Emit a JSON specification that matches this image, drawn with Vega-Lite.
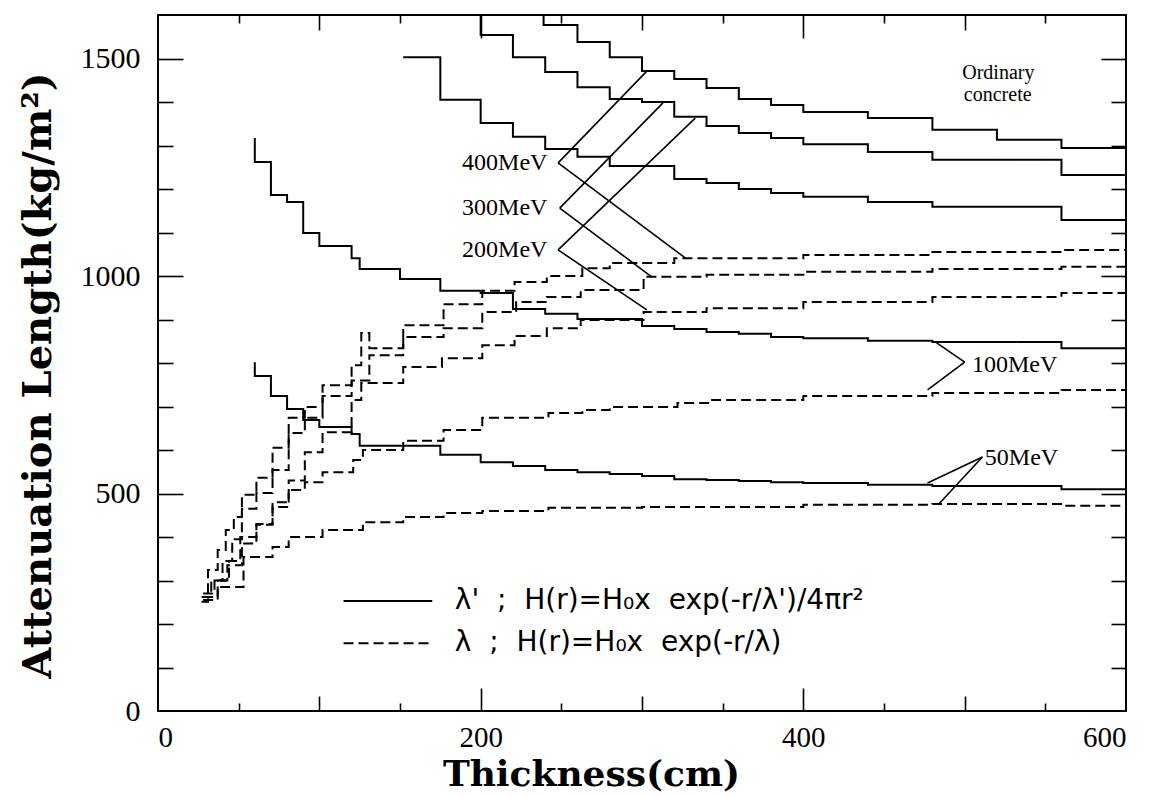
{
  "$schema": "https://vega.github.io/schema/vega-lite/v6.json",
  "width": 968,
  "height": 696,
  "autosize": {"type": "none"},
  "padding": {"left": 158, "top": 15, "right": 37, "bottom": 86},
  "background": "white",
  "config": {
    "view": {"stroke": "black", "strokeWidth": 2},
    "axis": {"grid": false, "tickColor": "black", "tickWidth": 1.6, "domain": false, "labelColor": "black", "titleColor": "black"}
  },
  "resolve": {"axis": {"x": "independent", "y": "independent"}},
  "datasets": {
    "curves": [
      {"curve": "S400", "kind": "solid", "x": 220, "y": 1650}, {"curve": "S400", "kind": "solid", "x": 239, "y": 1577}, {"curve": "S400", "kind": "solid", "x": 260, "y": 1538}, {"curve": "S400", "kind": "solid", "x": 280, "y": 1503}, {"curve": "S400", "kind": "solid", "x": 300, "y": 1471}, {"curve": "S400", "kind": "solid", "x": 320, "y": 1453}, {"curve": "S400", "kind": "solid", "x": 340, "y": 1432}, {"curve": "S400", "kind": "solid", "x": 360, "y": 1407}, {"curve": "S400", "kind": "solid", "x": 380, "y": 1393}, {"curve": "S400", "kind": "solid", "x": 400, "y": 1377}, {"curve": "S400", "kind": "solid", "x": 440, "y": 1363}, {"curve": "S400", "kind": "solid", "x": 480, "y": 1336}, {"curve": "S400", "kind": "solid", "x": 520, "y": 1313}, {"curve": "S400", "kind": "solid", "x": 560, "y": 1294}, {"curve": "S400", "kind": "solid", "x": 600, "y": 1294},
      {"curve": "S300", "kind": "solid", "x": 180, "y": 1650}, {"curve": "S300", "kind": "solid", "x": 200, "y": 1554}, {"curve": "S300", "kind": "solid", "x": 220, "y": 1503}, {"curve": "S300", "kind": "solid", "x": 240, "y": 1469}, {"curve": "S300", "kind": "solid", "x": 260, "y": 1434}, {"curve": "S300", "kind": "solid", "x": 280, "y": 1407}, {"curve": "S300", "kind": "solid", "x": 300, "y": 1400}, {"curve": "S300", "kind": "solid", "x": 320, "y": 1366}, {"curve": "S300", "kind": "solid", "x": 340, "y": 1345}, {"curve": "S300", "kind": "solid", "x": 360, "y": 1329}, {"curve": "S300", "kind": "solid", "x": 380, "y": 1317}, {"curve": "S300", "kind": "solid", "x": 400, "y": 1303}, {"curve": "S300", "kind": "solid", "x": 440, "y": 1285}, {"curve": "S300", "kind": "solid", "x": 480, "y": 1267}, {"curve": "S300", "kind": "solid", "x": 560, "y": 1232}, {"curve": "S300", "kind": "solid", "x": 600, "y": 1232},
      {"curve": "S200", "kind": "solid", "x": 152, "y": 1503}, {"curve": "S200", "kind": "solid", "x": 175, "y": 1405}, {"curve": "S200", "kind": "solid", "x": 200, "y": 1352}, {"curve": "S200", "kind": "solid", "x": 220, "y": 1320}, {"curve": "S200", "kind": "solid", "x": 240, "y": 1292}, {"curve": "S200", "kind": "solid", "x": 260, "y": 1274}, {"curve": "S200", "kind": "solid", "x": 280, "y": 1253}, {"curve": "S200", "kind": "solid", "x": 320, "y": 1223}, {"curve": "S200", "kind": "solid", "x": 340, "y": 1214}, {"curve": "S200", "kind": "solid", "x": 360, "y": 1200}, {"curve": "S200", "kind": "solid", "x": 380, "y": 1191}, {"curve": "S200", "kind": "solid", "x": 400, "y": 1182}, {"curve": "S200", "kind": "solid", "x": 440, "y": 1170}, {"curve": "S200", "kind": "solid", "x": 480, "y": 1159}, {"curve": "S200", "kind": "solid", "x": 560, "y": 1129}, {"curve": "S200", "kind": "solid", "x": 600, "y": 1129},
      {"curve": "S100", "kind": "solid", "x": 60, "y": 1317}, {"curve": "S100", "kind": "solid", "x": 60, "y": 1262}, {"curve": "S100", "kind": "solid", "x": 70, "y": 1186}, {"curve": "S100", "kind": "solid", "x": 80, "y": 1170}, {"curve": "S100", "kind": "solid", "x": 90, "y": 1099}, {"curve": "S100", "kind": "solid", "x": 100, "y": 1069}, {"curve": "S100", "kind": "solid", "x": 120, "y": 1041}, {"curve": "S100", "kind": "solid", "x": 125, "y": 1016}, {"curve": "S100", "kind": "solid", "x": 150, "y": 993}, {"curve": "S100", "kind": "solid", "x": 175, "y": 966}, {"curve": "S100", "kind": "solid", "x": 200, "y": 961}, {"curve": "S100", "kind": "solid", "x": 220, "y": 924}, {"curve": "S100", "kind": "solid", "x": 240, "y": 913}, {"curve": "S100", "kind": "solid", "x": 260, "y": 901}, {"curve": "S100", "kind": "solid", "x": 300, "y": 885}, {"curve": "S100", "kind": "solid", "x": 320, "y": 878}, {"curve": "S100", "kind": "solid", "x": 340, "y": 871}, {"curve": "S100", "kind": "solid", "x": 360, "y": 867}, {"curve": "S100", "kind": "solid", "x": 380, "y": 860}, {"curve": "S100", "kind": "solid", "x": 400, "y": 857}, {"curve": "S100", "kind": "solid", "x": 440, "y": 851}, {"curve": "S100", "kind": "solid", "x": 480, "y": 848}, {"curve": "S100", "kind": "solid", "x": 560, "y": 834}, {"curve": "S100", "kind": "solid", "x": 600, "y": 834},
      {"curve": "S50", "kind": "solid", "x": 60, "y": 802}, {"curve": "S50", "kind": "solid", "x": 60, "y": 770}, {"curve": "S50", "kind": "solid", "x": 70, "y": 724}, {"curve": "S50", "kind": "solid", "x": 80, "y": 694}, {"curve": "S50", "kind": "solid", "x": 90, "y": 669}, {"curve": "S50", "kind": "solid", "x": 100, "y": 653}, {"curve": "S50", "kind": "solid", "x": 120, "y": 637}, {"curve": "S50", "kind": "solid", "x": 125, "y": 610}, {"curve": "S50", "kind": "solid", "x": 175, "y": 589}, {"curve": "S50", "kind": "solid", "x": 200, "y": 572}, {"curve": "S50", "kind": "solid", "x": 220, "y": 563}, {"curve": "S50", "kind": "solid", "x": 240, "y": 554}, {"curve": "S50", "kind": "solid", "x": 260, "y": 549}, {"curve": "S50", "kind": "solid", "x": 280, "y": 545}, {"curve": "S50", "kind": "solid", "x": 300, "y": 540}, {"curve": "S50", "kind": "solid", "x": 320, "y": 533}, {"curve": "S50", "kind": "solid", "x": 340, "y": 531}, {"curve": "S50", "kind": "solid", "x": 360, "y": 529}, {"curve": "S50", "kind": "solid", "x": 380, "y": 526}, {"curve": "S50", "kind": "solid", "x": 400, "y": 524}, {"curve": "S50", "kind": "solid", "x": 440, "y": 520}, {"curve": "S50", "kind": "solid", "x": 480, "y": 517}, {"curve": "S50", "kind": "solid", "x": 560, "y": 510}, {"curve": "S50", "kind": "solid", "x": 600, "y": 510},
      {"curve": "D400", "kind": "dashed", "x": 27, "y": 251}, {"curve": "D400", "kind": "dashed", "x": 31, "y": 324}, {"curve": "D400", "kind": "dashed", "x": 37, "y": 370}, {"curve": "D400", "kind": "dashed", "x": 42, "y": 416}, {"curve": "D400", "kind": "dashed", "x": 47, "y": 446}, {"curve": "D400", "kind": "dashed", "x": 52, "y": 497}, {"curve": "D400", "kind": "dashed", "x": 61, "y": 536}, {"curve": "D400", "kind": "dashed", "x": 71, "y": 605}, {"curve": "D400", "kind": "dashed", "x": 81, "y": 674}, {"curve": "D400", "kind": "dashed", "x": 91, "y": 699}, {"curve": "D400", "kind": "dashed", "x": 102, "y": 749}, {"curve": "D400", "kind": "dashed", "x": 120, "y": 795}, {"curve": "D400", "kind": "dashed", "x": 126, "y": 869}, {"curve": "D400", "kind": "dashed", "x": 131, "y": 834}, {"curve": "D400", "kind": "dashed", "x": 152, "y": 887}, {"curve": "D400", "kind": "dashed", "x": 177, "y": 935}, {"curve": "D400", "kind": "dashed", "x": 201, "y": 966}, {"curve": "D400", "kind": "dashed", "x": 221, "y": 986}, {"curve": "D400", "kind": "dashed", "x": 241, "y": 1000}, {"curve": "D400", "kind": "dashed", "x": 263, "y": 1018}, {"curve": "D400", "kind": "dashed", "x": 280, "y": 1030}, {"curve": "D400", "kind": "dashed", "x": 320, "y": 1041}, {"curve": "D400", "kind": "dashed", "x": 400, "y": 1048}, {"curve": "D400", "kind": "dashed", "x": 480, "y": 1055}, {"curve": "D400", "kind": "dashed", "x": 560, "y": 1060}, {"curve": "D400", "kind": "dashed", "x": 600, "y": 1060},
      {"curve": "D300", "kind": "dashed", "x": 27, "y": 262}, {"curve": "D300", "kind": "dashed", "x": 33, "y": 300}, {"curve": "D300", "kind": "dashed", "x": 40, "y": 345}, {"curve": "D300", "kind": "dashed", "x": 46, "y": 395}, {"curve": "D300", "kind": "dashed", "x": 52, "y": 465}, {"curve": "D300", "kind": "dashed", "x": 61, "y": 501}, {"curve": "D300", "kind": "dashed", "x": 71, "y": 554}, {"curve": "D300", "kind": "dashed", "x": 81, "y": 639}, {"curve": "D300", "kind": "dashed", "x": 91, "y": 674}, {"curve": "D300", "kind": "dashed", "x": 102, "y": 724}, {"curve": "D300", "kind": "dashed", "x": 120, "y": 760}, {"curve": "D300", "kind": "dashed", "x": 131, "y": 818}, {"curve": "D300", "kind": "dashed", "x": 152, "y": 860}, {"curve": "D300", "kind": "dashed", "x": 177, "y": 880}, {"curve": "D300", "kind": "dashed", "x": 201, "y": 917}, {"curve": "D300", "kind": "dashed", "x": 222, "y": 940}, {"curve": "D300", "kind": "dashed", "x": 241, "y": 952}, {"curve": "D300", "kind": "dashed", "x": 262, "y": 968}, {"curve": "D300", "kind": "dashed", "x": 301, "y": 998}, {"curve": "D300", "kind": "dashed", "x": 340, "y": 1003}, {"curve": "D300", "kind": "dashed", "x": 400, "y": 1010}, {"curve": "D300", "kind": "dashed", "x": 480, "y": 1016}, {"curve": "D300", "kind": "dashed", "x": 560, "y": 1021}, {"curve": "D300", "kind": "dashed", "x": 600, "y": 1021},
      {"curve": "D200", "kind": "dashed", "x": 28, "y": 270}, {"curve": "D200", "kind": "dashed", "x": 35, "y": 300}, {"curve": "D200", "kind": "dashed", "x": 43, "y": 335}, {"curve": "D200", "kind": "dashed", "x": 52, "y": 385}, {"curve": "D200", "kind": "dashed", "x": 61, "y": 430}, {"curve": "D200", "kind": "dashed", "x": 71, "y": 480}, {"curve": "D200", "kind": "dashed", "x": 81, "y": 530}, {"curve": "D200", "kind": "dashed", "x": 91, "y": 595}, {"curve": "D200", "kind": "dashed", "x": 102, "y": 641}, {"curve": "D200", "kind": "dashed", "x": 120, "y": 715}, {"curve": "D200", "kind": "dashed", "x": 126, "y": 754}, {"curve": "D200", "kind": "dashed", "x": 152, "y": 791}, {"curve": "D200", "kind": "dashed", "x": 176, "y": 811}, {"curve": "D200", "kind": "dashed", "x": 201, "y": 841}, {"curve": "D200", "kind": "dashed", "x": 221, "y": 862}, {"curve": "D200", "kind": "dashed", "x": 241, "y": 880}, {"curve": "D200", "kind": "dashed", "x": 262, "y": 899}, {"curve": "D200", "kind": "dashed", "x": 301, "y": 917}, {"curve": "D200", "kind": "dashed", "x": 340, "y": 926}, {"curve": "D200", "kind": "dashed", "x": 400, "y": 940}, {"curve": "D200", "kind": "dashed", "x": 480, "y": 952}, {"curve": "D200", "kind": "dashed", "x": 560, "y": 961}, {"curve": "D200", "kind": "dashed", "x": 600, "y": 961},
      {"curve": "D100", "kind": "dashed", "x": 28, "y": 262}, {"curve": "D100", "kind": "dashed", "x": 37, "y": 300}, {"curve": "D100", "kind": "dashed", "x": 44, "y": 345}, {"curve": "D100", "kind": "dashed", "x": 51, "y": 400}, {"curve": "D100", "kind": "dashed", "x": 61, "y": 428}, {"curve": "D100", "kind": "dashed", "x": 71, "y": 469}, {"curve": "D100", "kind": "dashed", "x": 81, "y": 508}, {"curve": "D100", "kind": "dashed", "x": 91, "y": 526}, {"curve": "D100", "kind": "dashed", "x": 102, "y": 549}, {"curve": "D100", "kind": "dashed", "x": 121, "y": 577}, {"curve": "D100", "kind": "dashed", "x": 127, "y": 600}, {"curve": "D100", "kind": "dashed", "x": 152, "y": 621}, {"curve": "D100", "kind": "dashed", "x": 177, "y": 646}, {"curve": "D100", "kind": "dashed", "x": 201, "y": 674}, {"curve": "D100", "kind": "dashed", "x": 242, "y": 685}, {"curve": "D100", "kind": "dashed", "x": 263, "y": 692}, {"curve": "D100", "kind": "dashed", "x": 280, "y": 699}, {"curve": "D100", "kind": "dashed", "x": 322, "y": 708}, {"curve": "D100", "kind": "dashed", "x": 342, "y": 715}, {"curve": "D100", "kind": "dashed", "x": 400, "y": 724}, {"curve": "D100", "kind": "dashed", "x": 480, "y": 731}, {"curve": "D100", "kind": "dashed", "x": 560, "y": 738}, {"curve": "D100", "kind": "dashed", "x": 600, "y": 740},
      {"curve": "D50", "kind": "dashed", "x": 28, "y": 255}, {"curve": "D50", "kind": "dashed", "x": 37, "y": 285}, {"curve": "D50", "kind": "dashed", "x": 53, "y": 354}, {"curve": "D50", "kind": "dashed", "x": 71, "y": 377}, {"curve": "D50", "kind": "dashed", "x": 81, "y": 400}, {"curve": "D50", "kind": "dashed", "x": 102, "y": 416}, {"curve": "D50", "kind": "dashed", "x": 127, "y": 434}, {"curve": "D50", "kind": "dashed", "x": 152, "y": 446}, {"curve": "D50", "kind": "dashed", "x": 177, "y": 455}, {"curve": "D50", "kind": "dashed", "x": 201, "y": 460}, {"curve": "D50", "kind": "dashed", "x": 242, "y": 467}, {"curve": "D50", "kind": "dashed", "x": 300, "y": 469}, {"curve": "D50", "kind": "dashed", "x": 400, "y": 474}, {"curve": "D50", "kind": "dashed", "x": 480, "y": 476}, {"curve": "D50", "kind": "dashed", "x": 563, "y": 472}, {"curve": "D50", "kind": "dashed", "x": 600, "y": 472}
    ],
    "pointers": [
      {"x": 248, "y": 1260, "x2": 303, "y2": 1471}, {"x": 248, "y": 1260, "x2": 327, "y2": 1041},
      {"x": 249, "y": 1156, "x2": 313, "y2": 1398}, {"x": 249, "y": 1156, "x2": 306, "y2": 998},
      {"x": 248, "y": 1060, "x2": 333, "y2": 1363}, {"x": 248, "y": 1060, "x2": 303, "y2": 922},
      {"x": 500, "y": 802, "x2": 482, "y2": 848}, {"x": 500, "y": 802, "x2": 477, "y2": 738},
      {"x": 511, "y": 584, "x2": 477, "y2": 524}, {"x": 511, "y": 584, "x2": 484, "y2": 476}
    ],
    "legendLines": [
      {"kind": "solid", "x": 115, "y": 253, "x2": 170, "y2": 253},
      {"kind": "dashed", "x": 115, "y": 156, "x2": 170, "y2": 156}
    ],
    "mevLabels": [
      {"text": "400MeV", "x": 188.5, "y": 1260},
      {"text": "300MeV", "x": 188.5, "y": 1156},
      {"text": "200MeV", "x": 188.5, "y": 1060},
      {"text": "100MeV", "x": 504.5, "y": 795},
      {"text": "50MeV", "x": 512.5, "y": 582}
    ],
    "concrete": [
      {"text": "Ordinary", "x": 498.5, "y": 1467},
      {"text": "concrete", "x": 499.5, "y": 1415}
    ],
    "legendText": [
      {"text": "λ'\u00a0\u00a0;\u00a0\u00a0H(r)=H₀x\u00a0\u00a0exp(-r/λ')/4πr²", "x": 184, "y": 253},
      {"text": "λ\u00a0\u00a0;\u00a0\u00a0H(r)=H₀x\u00a0\u00a0exp(-r/λ)", "x": 184, "y": 156}
    ]
  },
  "layer": [
    {
      "data": {"name": "curves"},
      "mark": {"type": "point", "opacity": 0},
      "encoding": {
        "x": {"field": "x", "type": "quantitative", "scale": {"domain": [0, 600], "nice": false, "zero": false},
          "axis": {"orient": "bottom", "values": [0, 200, 400, 600], "format": "d", "ticks": false, "tickSize": 0, "labelPadding": 12, "labelFont": "Liberation Serif", "labelFontSize": 29, "labelFlush": true,
            "title": "Thickness(cm)", "titleFont": "DejaVu Serif", "titleFontWeight": "bold", "titleFontSize": 36, "titleBaseline": "alphabetic", "titleAlign": "center", "titleX": 433, "titleY": 74}},
        "y": {"field": "y", "type": "quantitative", "scale": {"domain": [0, 1600], "nice": false},
          "axis": {"orient": "left", "values": [0, 500, 1000, 1500], "format": "d", "ticks": false, "tickSize": 0, "labelPadding": 18, "labelFont": "Liberation Serif", "labelFontSize": 30,
            "title": "Attenuation Length(kg/m²)", "titleFont": "DejaVu Serif", "titleFontWeight": "bold", "titleFontSize": 40, "titleAngle": -90, "titleBaseline": "alphabetic", "titleAlign": "center", "titleX": -108, "titleY": 360}}
      }
    },
    {
      "data": {"name": "curves"}, "mark": {"type": "point", "opacity": 0},
      "encoding": {
        "x": {"field": "x", "type": "quantitative", "scale": {"domain": [0, 600], "nice": false, "zero": false}, "axis": {"orient": "bottom", "values": [50, 150, 250, 350, 450, 550], "tickSize": 8, "offset": -8, "labels": false, "title": null}},
        "y": {"field": "y", "type": "quantitative", "scale": {"domain": [0, 1600], "nice": false}, "axis": null}
      }
    },
    {
      "data": {"name": "curves"}, "mark": {"type": "point", "opacity": 0},
      "encoding": {
        "x": {"field": "x", "type": "quantitative", "scale": {"domain": [0, 600], "nice": false, "zero": false}, "axis": {"orient": "bottom", "values": [100, 300, 500], "tickSize": 15, "offset": -15, "labels": false, "title": null}},
        "y": {"field": "y", "type": "quantitative", "scale": {"domain": [0, 1600], "nice": false}, "axis": null}
      }
    },
    {
      "data": {"name": "curves"}, "mark": {"type": "point", "opacity": 0},
      "encoding": {
        "x": {"field": "x", "type": "quantitative", "scale": {"domain": [0, 600], "nice": false, "zero": false}, "axis": {"orient": "bottom", "values": [200, 400], "tickSize": 23, "offset": -23, "labels": false, "title": null}},
        "y": {"field": "y", "type": "quantitative", "scale": {"domain": [0, 1600], "nice": false}, "axis": null}
      }
    },
    {
      "data": {"name": "curves"}, "mark": {"type": "point", "opacity": 0},
      "encoding": {
        "x": {"field": "x", "type": "quantitative", "scale": {"domain": [0, 600], "nice": false, "zero": false}, "axis": {"orient": "top", "values": [50, 150, 250, 350, 450, 550], "tickSize": 8, "offset": -8, "labels": false, "title": null}},
        "y": {"field": "y", "type": "quantitative", "scale": {"domain": [0, 1600], "nice": false}, "axis": null}
      }
    },
    {
      "data": {"name": "curves"}, "mark": {"type": "point", "opacity": 0},
      "encoding": {
        "x": {"field": "x", "type": "quantitative", "scale": {"domain": [0, 600], "nice": false, "zero": false}, "axis": {"orient": "top", "values": [100, 300, 500], "tickSize": 15, "offset": -15, "labels": false, "title": null}},
        "y": {"field": "y", "type": "quantitative", "scale": {"domain": [0, 1600], "nice": false}, "axis": null}
      }
    },
    {
      "data": {"name": "curves"}, "mark": {"type": "point", "opacity": 0},
      "encoding": {
        "x": {"field": "x", "type": "quantitative", "scale": {"domain": [0, 600], "nice": false, "zero": false}, "axis": {"orient": "top", "values": [200, 400], "tickSize": 23, "offset": -23, "labels": false, "title": null}},
        "y": {"field": "y", "type": "quantitative", "scale": {"domain": [0, 1600], "nice": false}, "axis": null}
      }
    },
    {
      "data": {"name": "curves"}, "mark": {"type": "point", "opacity": 0},
      "encoding": {
        "x": {"field": "x", "type": "quantitative", "scale": {"domain": [0, 600], "nice": false, "zero": false}, "axis": null},
        "y": {"field": "y", "type": "quantitative", "scale": {"domain": [0, 1600], "nice": false}, "axis": {"orient": "left", "values": [100, 200, 300, 400, 600, 700, 800, 900, 1100, 1200, 1300, 1400], "tickSize": 15, "offset": -15, "labels": false, "title": null}}
      }
    },
    {
      "data": {"name": "curves"}, "mark": {"type": "point", "opacity": 0},
      "encoding": {
        "x": {"field": "x", "type": "quantitative", "scale": {"domain": [0, 600], "nice": false, "zero": false}, "axis": null},
        "y": {"field": "y", "type": "quantitative", "scale": {"domain": [0, 1600], "nice": false}, "axis": {"orient": "left", "values": [500, 1000, 1500], "tickSize": 25, "offset": -25, "labels": false, "title": null}}
      }
    },
    {
      "data": {"name": "curves"}, "mark": {"type": "point", "opacity": 0},
      "encoding": {
        "x": {"field": "x", "type": "quantitative", "scale": {"domain": [0, 600], "nice": false, "zero": false}, "axis": null},
        "y": {"field": "y", "type": "quantitative", "scale": {"domain": [0, 1600], "nice": false}, "axis": {"orient": "right", "values": [100, 200, 300, 400, 600, 700, 800, 900, 1100, 1200, 1300, 1400], "tickSize": 15, "offset": -15, "labels": false, "title": null}}
      }
    },
    {
      "data": {"name": "curves"}, "mark": {"type": "point", "opacity": 0},
      "encoding": {
        "x": {"field": "x", "type": "quantitative", "scale": {"domain": [0, 600], "nice": false, "zero": false}, "axis": null},
        "y": {"field": "y", "type": "quantitative", "scale": {"domain": [0, 1600], "nice": false}, "axis": {"orient": "right", "values": [500, 1000, 1500], "tickSize": 25, "offset": -25, "labels": false, "title": null}}
      }
    },
    {
      "data": {"name": "curves"},
      "mark": {"type": "line", "interpolate": "step-after", "color": "black", "strokeWidth": 2, "clip": true},
      "encoding": {
        "x": {"field": "x", "type": "quantitative", "scale": {"domain": [0, 600], "nice": false, "zero": false}, "axis": null},
        "y": {"field": "y", "type": "quantitative", "scale": {"domain": [0, 1600], "nice": false}, "axis": null},
        "detail": {"field": "curve", "type": "nominal"},
        "strokeDash": {"field": "kind", "type": "nominal", "scale": {"domain": ["solid", "dashed"], "range": [[1, 0], [10, 5]]}, "legend": null},
        "order": {"value": null}
      }
    },
    {
      "data": {"name": "pointers"},
      "mark": {"type": "rule", "color": "black", "strokeWidth": 1.6},
      "encoding": {
        "x": {"field": "x", "type": "quantitative", "scale": {"domain": [0, 600], "nice": false, "zero": false}, "axis": null},
        "y": {"field": "y", "type": "quantitative", "scale": {"domain": [0, 1600], "nice": false}, "axis": null},
        "x2": {"field": "x2"},
        "y2": {"field": "y2"}
      }
    },
    {
      "data": {"name": "legendLines"},
      "mark": {"type": "rule", "color": "black", "strokeWidth": 2},
      "encoding": {
        "x": {"field": "x", "type": "quantitative", "scale": {"domain": [0, 600], "nice": false, "zero": false}, "axis": null},
        "y": {"field": "y", "type": "quantitative", "scale": {"domain": [0, 1600], "nice": false}, "axis": null},
        "x2": {"field": "x2"},
        "y2": {"field": "y2"},
        "strokeDash": {"field": "kind", "type": "nominal", "scale": {"domain": ["solid", "dashed"], "range": [[1, 0], [10, 5]]}, "legend": null}
      }
    },
    {
      "data": {"name": "mevLabels"},
      "mark": {"type": "text", "align": "left", "baseline": "middle", "font": "Liberation Serif", "fontSize": 24, "color": "black"},
      "encoding": {
        "x": {"field": "x", "type": "quantitative", "scale": {"domain": [0, 600], "nice": false, "zero": false}, "axis": null},
        "y": {"field": "y", "type": "quantitative", "scale": {"domain": [0, 1600], "nice": false}, "axis": null},
        "text": {"field": "text"}
      }
    },
    {
      "data": {"name": "concrete"},
      "mark": {"type": "text", "align": "left", "baseline": "middle", "font": "Liberation Serif", "fontSize": 20, "color": "black"},
      "encoding": {
        "x": {"field": "x", "type": "quantitative", "scale": {"domain": [0, 600], "nice": false, "zero": false}, "axis": null},
        "y": {"field": "y", "type": "quantitative", "scale": {"domain": [0, 1600], "nice": false}, "axis": null},
        "text": {"field": "text"}
      }
    },
    {
      "data": {"name": "legendText"},
      "mark": {"type": "text", "align": "left", "baseline": "middle", "font": "DejaVu Sans", "fontSize": 28, "color": "black"},
      "encoding": {
        "x": {"field": "x", "type": "quantitative", "scale": {"domain": [0, 600], "nice": false, "zero": false}, "axis": null},
        "y": {"field": "y", "type": "quantitative", "scale": {"domain": [0, 1600], "nice": false}, "axis": null},
        "text": {"field": "text"}
      }
    }
  ]
}
